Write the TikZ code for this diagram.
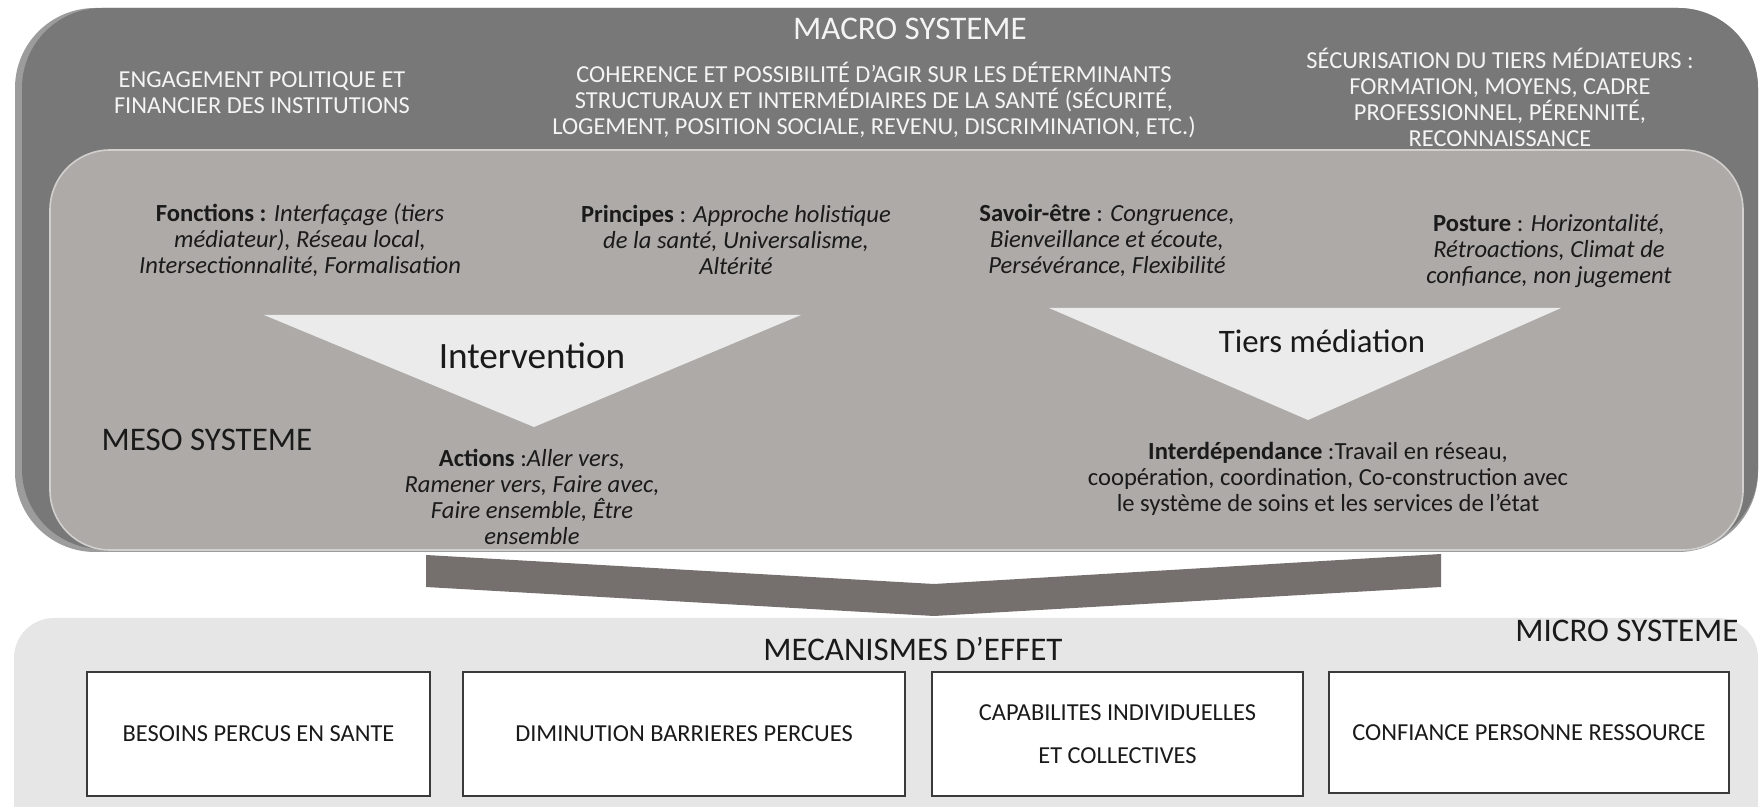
\documentclass[tikz,border=0pt]{standalone}
\usepackage{fontspec}
\setmainfont{Carlito}
\definecolor{macroC}{HTML}{787878}
\definecolor{macroEdge}{HTML}{9C9C9C}
\definecolor{mesoC}{HTML}{ADAAA8}
\definecolor{mesoEdge}{HTML}{D2D0CE}
\definecolor{triC}{HTML}{EBEBEB}
\definecolor{bandC}{HTML}{756F6E}
\definecolor{microC}{HTML}{E6E6E6}
\definecolor{boxline}{HTML}{3A3A3A}
\definecolor{inkC}{HTML}{1A1A1A}
\definecolor{lightTxt}{HTML}{F4F4F4}
\tikzset{
  macrotxt/.style={text=lightTxt, font=\fontsize{12.2}{13}\selectfont, align=center, inner sep=0pt},
  mesotxt/.style={text=inkC, font=\fontsize{12.3}{13}\selectfont, align=center, inner sep=0pt},
  bigtitle/.style={font=\fontsize{16.5}{19}\selectfont, inner sep=0pt, anchor=base},
  tritxt/.style={text=inkC, inner sep=0pt, anchor=base},
  effbox/.style={draw=boxline, line width=1.2pt, fill=white},
  efftxt/.style={text=inkC, font=\fontsize{12.2}{21.5}\selectfont, align=center, inner sep=0pt},
}
\begin{document}
\begin{tikzpicture}[x=0.5pt,y=-0.5pt]
\useasboundingbox (0,0) rectangle (1763,807);
% macro system (with a light bevel on its left edge)
\fill[macroEdge, rounded corners=40pt] (15,8) rectangle (1758,552);
\fill[macroC, rounded corners=40pt] (22,8) rectangle (1758,549);
% meso system
\fill[mesoC, rounded corners=30pt] (50,150) rectangle (1743,550);
\draw[mesoEdge, line width=0.8pt, rounded corners=30pt] (50,150) rectangle (1743,550);
% triangles
\fill[triC] (264,315) -- (801,315) -- (534,427) -- cycle;
\fill[triC] (1049,308) -- (1561,308) -- (1308,420) -- cycle;
% band (chevron connector)
\fill[bandC] (426,555) -- (934,584) -- (1441,554) -- (1441,587) -- (934,616) -- (426,587) -- cycle;
% micro system
\fill[microC, rounded corners=20pt] (14,618) rectangle (1758,860);

% macro texts
\node[bigtitle, text=lightTxt] (macro) at (910,40) {MACRO SYSTEME};
\node[macrotxt] (eng) at (262,93) {ENGAGEMENT POLITIQUE ET\\FINANCIER DES INSTITUTIONS};
\node[macrotxt] (coh) at (874,100) {COHERENCE ET POSSIBILITÉ D’AGIR SUR LES DÉTERMINANTS\\STRUCTURAUX ET INTERMÉDIAIRES DE LA SANTÉ (SÉCURITÉ,\\LOGEMENT, POSITION SOCIALE, REVENU, DISCRIMINATION, ETC.)};
\node[macrotxt] (secu) at (1500,97) {SÉCURISATION DU TIERS MÉDIATEURS :\\FORMATION, MOYENS, CADRE\\PROFESSIONNEL, PÉRENNITÉ,\\RECONNAISSANCE};

% meso texts
\node[mesotxt] (fonc) at (300,240) {\textbf{Fonctions :} \textit{Interfaçage (tiers}\\\textit{médiateur), Réseau local,}\\\textit{Intersectionnalité, Formalisation}};
\node[mesotxt] (princ) at (736,240) {\textbf{Principes} : \textit{Approche holistique}\\\textit{de la santé, Universalisme,}\\\textit{Altérité}};
\node[mesotxt] (savoir) at (1107,240) {\textbf{Savoir-être} : \textit{Congruence,}\\\textit{Bienveillance et écoute,}\\\textit{Persévérance, Flexibilité}};
\node[mesotxt] (posture) at (1549,251) {\textbf{Posture} : \textit{Horizontalité,}\\\textit{Rétroactions, Climat de}\\\textit{confiance, non jugement}};
\node[tritxt, font=\fontsize{18.6}{21}\selectfont] (interv) at (532,369) {Intervention};
\node[tritxt, font=\fontsize{16.4}{19}\selectfont] (tiers) at (1322,353) {Tiers médiation};
\node[bigtitle, text=inkC] (meso) at (207,451) {MESO SYSTEME};
\node[mesotxt] (actions) at (532,497) {\textbf{Actions} :\textit{Aller vers,}\\\textit{Ramener vers, Faire avec,}\\\textit{Faire ensemble, Être}\\\textit{ensemble}};
\node[mesotxt] (interd) at (1328,479) {\textbf{Interdépendance} :Travail en réseau,\\coopération, coordination, Co-construction avec\\le système de soins et les services de l’état};

% micro texts
\node[bigtitle, text=inkC] (meca) at (913,661) {MECANISMES D’EFFET};
\node[bigtitle, text=inkC] (micro) at (1627,641) {MICRO SYSTEME};

% effect boxes
\node[effbox, minimum width=171.5pt, minimum height=62pt] (b1) at (258.5,734) {};
\node[effbox, minimum width=221pt, minimum height=62pt] (b2) at (684,734) {};
\node[effbox, minimum width=185.5pt, minimum height=62pt] (b3) at (1117.5,734) {};
\node[effbox, minimum width=200pt, minimum height=60.5pt] (b4) at (1529,732.5) {};
\node[efftxt] (t1) at (b1) {BESOINS PERCUS EN SANTE};
\node[efftxt] (t2) at (b2) {DIMINUTION BARRIERES PERCUES};
\node[efftxt] (t3) at (b3) {CAPABILITES INDIVIDUELLES\\ET COLLECTIVES};
\node[efftxt] (t4) at (b4) {CONFIANCE PERSONNE RESSOURCE};
\end{tikzpicture}
\end{document}
